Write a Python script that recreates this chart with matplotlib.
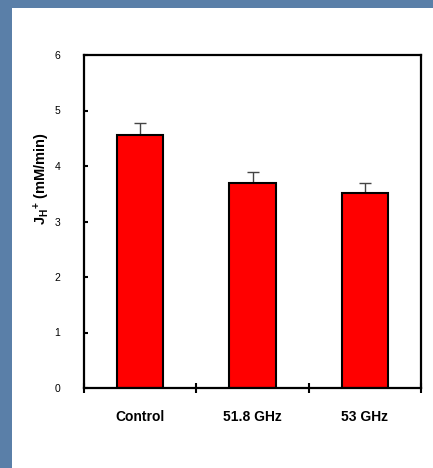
import matplotlib
matplotlib.use("Agg")
import matplotlib.pyplot as plt
from matplotlib.patches import Rectangle

categories = ["Control", "51.8 GHz", "53 GHz"]
values = [4.55, 3.70, 3.51]
errors = [0.22, 0.20, 0.18]
yticks = [0, 1, 2, 3, 4, 5, 6]

plt.rcParams['font.family'] = ['Liberation Sans', 'DejaVu Sans']
plt.rcParams['mathtext.fontset'] = 'custom'
plt.rcParams['mathtext.rm'] = 'Liberation Sans'
plt.rcParams['mathtext.bf'] = 'Liberation Sans:bold'

W, H = 433, 468
fig = plt.figure(figsize=(W/100, H/100), dpi=100)
fig.patch.set_facecolor('#5a7fa8')
fig.patches.append(Rectangle((12/W, 0), 1, 1 - 8/H, transform=fig.transFigure,
                             facecolor='white', edgecolor='none', zorder=-10))

ax = fig.add_axes([84/W, 1 - 388/H, 337/W, 333/H])
ax.set_zorder(5)
ax.set_facecolor('white')
x = list(range(len(categories)))
ax.bar(x, values, width=0.41, color='#ff0000', edgecolor='black', linewidth=1.5, zorder=2)
ax.errorbar(x, values, yerr=[[0]*len(errors), errors], fmt='none', ecolor='#444444',
            elinewidth=1, capsize=4.5, capthick=1, zorder=1)

ax.set_xlim(-0.5, 2.5)
ax.set_ylim(0, 6)
ax.set_yticks(yticks)
ax.set_yticklabels([str(t) for t in yticks], fontsize=7.5)
ax.tick_params(axis='y', direction='in', length=3, width=1.5, pad=17)
ax.set_xticks(x)
ax.set_xticklabels(categories, fontsize=10, fontweight='bold')
ax.tick_params(axis='x', which='major', length=0, pad=16)
ax.set_xticks([-0.5, 0.5, 1.5, 2.5], minor=True)
ax.tick_params(axis='x', which='minor', direction='inout', length=7, width=1.5)
for s in ax.spines.values():
    s.set_linewidth(1.6)

ax.set_ylabel(r'$\mathbf{J}_{\mathbf{H}}\mathbf{^{+}}$ (mM/min)', fontsize=10.5, fontweight='bold')
ax.yaxis.set_label_coords(-0.095, 0.63)

fig.savefig('out.png', dpi=100, facecolor=fig.get_facecolor())
